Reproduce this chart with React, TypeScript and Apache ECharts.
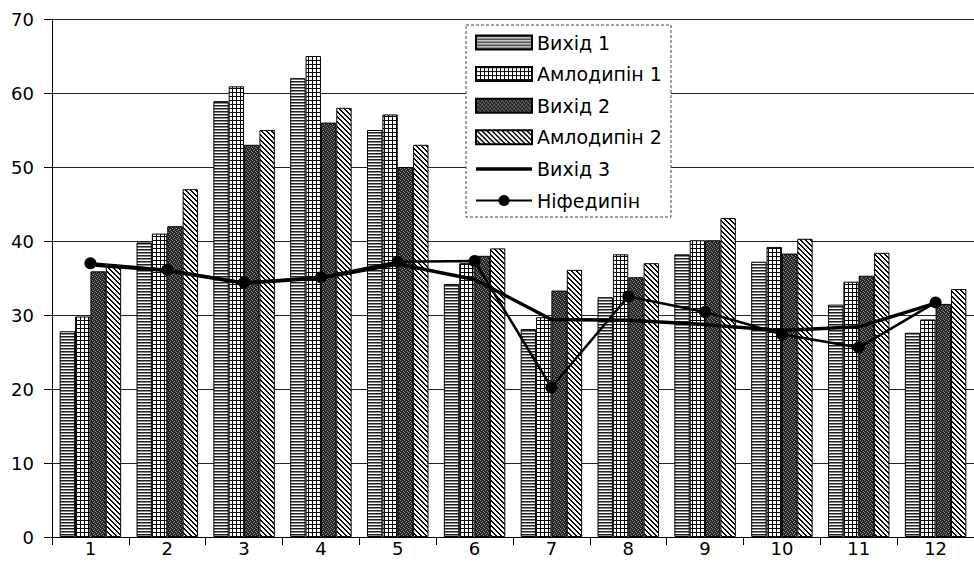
import React, { useEffect, useRef } from "react";
import * as echarts from "echarts";

const categories = ["1", "2", "3", "4", "5", "6", "7", "8", "9", "10", "11", "12"];
const vykhid1 = [27.8, 39.8, 58.9, 62.0, 55.0, 34.2, 28.1, 32.4, 38.2, 37.2, 31.4, 27.6];
const amlodypin1 = [29.8, 41.0, 60.9, 65.0, 57.1, 37.0, 29.7, 38.2, 40.1, 39.2, 34.5, 29.4];
const vykhid2 = [35.9, 42.0, 53.0, 56.0, 50.0, 38.0, 33.3, 35.1, 40.1, 38.3, 35.3, 31.5];
const amlodypin2 = [36.5, 47.0, 55.0, 58.0, 53.0, 39.0, 36.1, 37.0, 43.1, 40.3, 38.4, 33.5];
const vykhid3 = [36.8, 36.0, 34.3, 35.0, 36.9, 34.8, 29.4, 29.3, 28.7, 27.9, 28.4, 31.6];
const nifedypin = [37.0, 36.1, 34.4, 35.1, 37.2, 37.3, 20.2, 32.5, 30.4, 27.4, 25.6, 31.7];
const seriesNames = ["Вихід 1", "Амлодипін 1", "Вихід 2", "Амлодипін 2", "Вихід 3", "Ніфедипін"];

const FONT = "DejaVu Sans";

function makePattern(w: number, h: number, draw: (ctx: CanvasRenderingContext2D) => void) {
  const c = document.createElement("canvas");
  c.width = w;
  c.height = h;
  const ctx = c.getContext("2d") as CanvasRenderingContext2D;
  draw(ctx);
  return { image: c, repeat: "repeat", imageWidth: w, imageHeight: h } as any;
}

export default function App() {
  const ref = useRef<HTMLDivElement>(null);
  useEffect(() => {
    document.body.style.margin = "0";
    if (!ref.current) return;
    const chart = echarts.init(ref.current, undefined, { renderer: "svg" });

    const pHoriz = makePattern(6, 3, (ctx) => {
      ctx.fillStyle = "#fff";
      ctx.fillRect(0, 0, 6, 3);
      ctx.fillStyle = "#222";
      ctx.fillRect(0, 0, 6, 1);
      ctx.fillStyle = "#888";
      ctx.fillRect(0, 1, 6, 1);
    });
    const pGrid = makePattern(4, 4, (ctx) => {
      ctx.fillStyle = "#fff";
      ctx.fillRect(0, 0, 4, 4);
      ctx.fillStyle = "#000";
      ctx.fillRect(0, 0, 4, 1);
      ctx.fillRect(0, 0, 1, 4);
    });
    const pDark = makePattern(4, 4, (ctx) => {
      ctx.fillStyle = "#262626";
      ctx.fillRect(0, 0, 4, 4);
      ctx.fillStyle = "#8a8a8a";
      ctx.fillRect(0, 0, 1, 1);
      ctx.fillRect(2, 1, 1, 1);
      ctx.fillRect(1, 2, 1, 1);
      ctx.fillRect(3, 3, 1, 1);
    });
    const pDiag = makePattern(5, 5, (ctx) => {
      ctx.fillStyle = "#fff";
      ctx.fillRect(0, 0, 5, 5);
      ctx.fillStyle = "#000";
      for (let y = 0; y < 5; y++) {
        for (let x = 0; x < 5; x++) {
          const d = (((x - y) % 5) + 5) % 5;
          if (d === 0 || d === 1) ctx.fillRect(x, y, 1, 1);
        }
      }
    });

    const barCommon = {
      type: "bar",
      barGap: "0%",
      barCategoryGap: "20%",
    };

    const option: any = {
      animation: false,
      backgroundColor: "#fff",
      textStyle: { fontFamily: FONT },
      grid: { left: 52, right: -8, top: 19, bottom: 43, containLabel: false },
      legend: {
        orient: "vertical",
        left: 466,
        top: 25,
        padding: [8, 4, 8, 9],
        itemGap: 12.6,
        itemWidth: 56,
        itemHeight: 14,
        symbolKeepAspect: true,
        z: 10,
        textStyle: { fontSize: 19, color: "#000", fontFamily: FONT },
        data: [
          { name: seriesNames[0], icon: "rect" },
          { name: seriesNames[1], icon: "rect" },
          { name: seriesNames[2], icon: "rect" },
          { name: seriesNames[3], icon: "rect" },
          { name: seriesNames[4], icon: "path://M0,0L56,0L56,3.5L0,3.5Z" },
          { name: seriesNames[5] },
        ],
      },
      graphic: [
        {
          type: "rect",
          z: 5,
          shape: { x: 466, y: 25, width: 205, height: 192 },
          style: { fill: "#fff", stroke: "#444", lineWidth: 1, lineDash: [3, 2] },
        },
      ],
      xAxis: {
        type: "category",
        data: categories,
        axisLine: { show: true, lineStyle: { color: "#000", width: 1 } },
        axisTick: { show: true, alignWithLabel: false, length: 8, lineStyle: { color: "#000" } },
        axisLabel: { color: "#000", fontSize: 18, margin: 2, fontFamily: FONT },
        splitLine: { show: false },
      },
      yAxis: {
        type: "value",
        min: 0,
        max: 70,
        interval: 10,
        axisLine: { show: true, lineStyle: { color: "#000", width: 1 } },
        axisTick: { show: true, length: 8, lineStyle: { color: "#000" } },
        axisLabel: { color: "#000", fontSize: 18, margin: 18, fontFamily: FONT },
        splitLine: { show: true, lineStyle: { color: "#222", width: 1 } },
      },
      series: [
        { ...barCommon, name: seriesNames[0], data: vykhid1, itemStyle: { color: pHoriz, borderColor: "#000", borderWidth: 1 } },
        { ...barCommon, name: seriesNames[1], data: amlodypin1, itemStyle: { color: pGrid, borderColor: "#000", borderWidth: 1 } },
        { ...barCommon, name: seriesNames[2], data: vykhid2, itemStyle: { color: pDark, borderColor: "#000", borderWidth: 1 } },
        { ...barCommon, name: seriesNames[3], data: amlodypin2, itemStyle: { color: pDiag, borderColor: "#000", borderWidth: 1 } },
        {
          type: "line",
          name: seriesNames[4],
          data: vykhid3,
          symbol: "none",
          z: 3,
          lineStyle: { color: "#000", width: 3.5 },
          itemStyle: { color: "#000" },
        },
        {
          type: "line",
          name: seriesNames[5],
          data: nifedypin,
          symbol: "circle",
          symbolSize: 12,
          z: 4,
          lineStyle: { color: "#000", width: 2.5 },
          itemStyle: { color: "#000" },
        },
      ],
    };
    chart.setOption(option);
    return () => chart.dispose();
  }, []);
  return <div ref={ref} style={{ width: 974, height: 580 }} />;
}
